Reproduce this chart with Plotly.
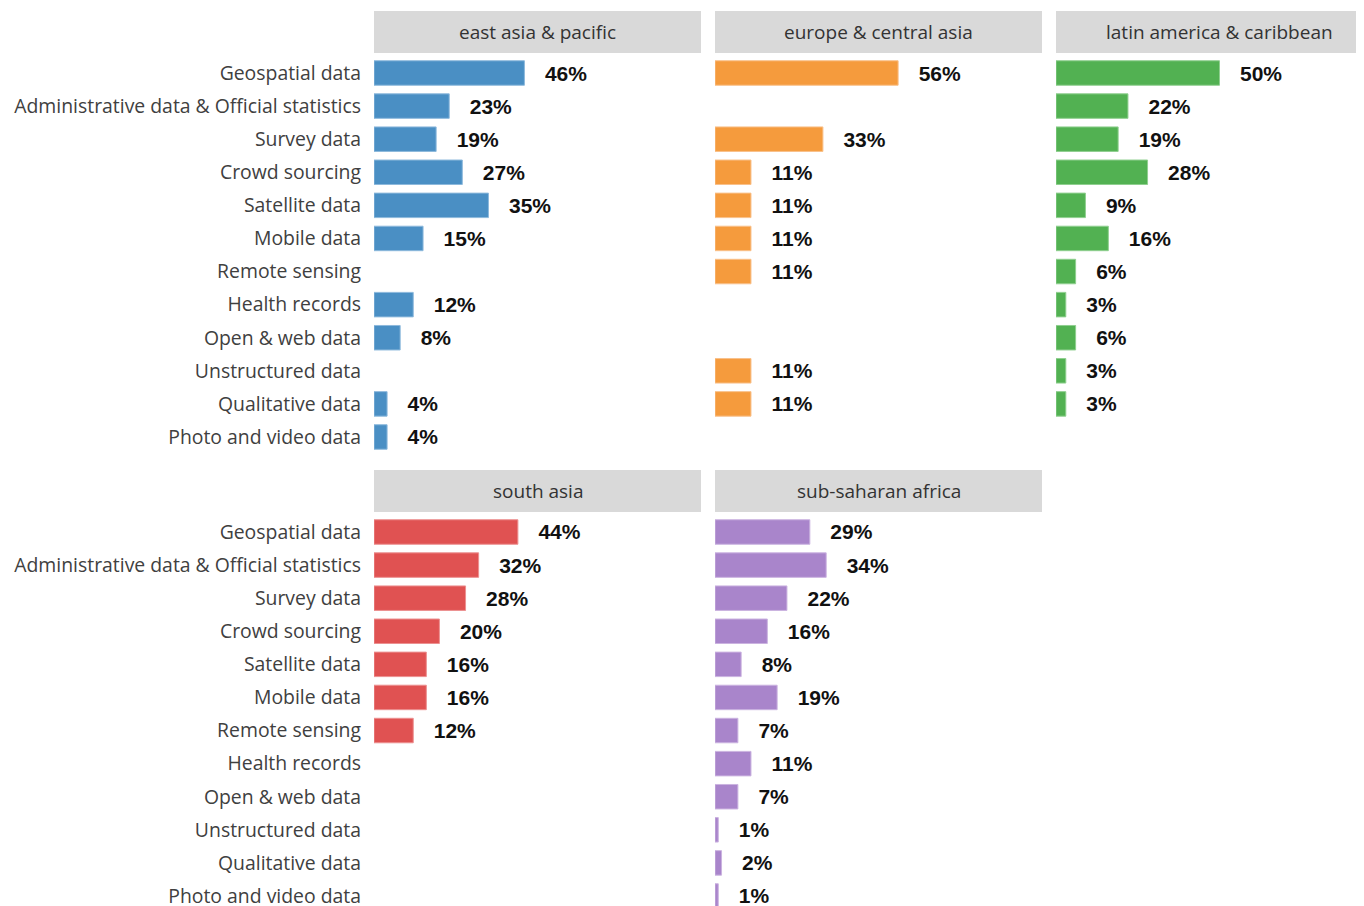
import plotly.graph_objects as go

categories = [
    "Geospatial data",
    "Administrative data & Official statistics",
    "Survey data",
    "Crowd sourcing",
    "Satellite data",
    "Mobile data",
    "Remote sensing",
    "Health records",
    "Open & web data",
    "Unstructured data",
    "Qualitative data",
    "Photo and video data",
]

regions = ["east asia & pacific", "europe & central asia", "latin america & caribbean",
           "south asia", "sub-saharan africa"]

east_asia_pacific = [46, 23, 19, 27, 35, 15, None, 12, 8, None, 4, 4]
europe_central_asia = [56, None, 33, 11, 11, 11, 11, None, None, 11, 11, None]
latin_america_caribbean = [50, 22, 19, 28, 9, 16, 6, 3, 6, 3, 3, None]
south_asia = [44, 32, 28, 20, 16, 16, 12, None, None, None, None, None]
sub_saharan_africa = [29, 34, 22, 16, 8, 19, 7, 11, 7, 1, 2, 1]

values = [east_asia_pacific, europe_central_asia, latin_america_caribbean,
          south_asia, sub_saharan_africa]
colors = ["#4A8FC4", "#F59B3D", "#52B152", "#E05252", "#A985CB"]
borders = ["#8DB9DC", "#F9C08A", "#8FCF8F", "#EC9090", "#CBB3E0"]

W, H = 1372, 914
OFF = 8  # page body margin
col_px = [(374, 701), (715, 1042), (1056, 1383)]
px_per_pct = 327 / 100.0
row_hdr = [(11, 53), (470, 512)]
row_first = [73, 532]
step = 33.09

fig = go.Figure()
layout = {}

for i, (name, vals, col, bcol) in enumerate(zip(regions, values, colors, borders)):
    r, c = divmod(i, 3)
    k = i + 1
    xs = "" if k == 1 else str(k)
    x0, x1 = col_px[c][0] - OFF, col_px[c][1] - OFF
    x1c = min(x1, W)
    dom_x = [x0 / W, x1c / W]
    xmax = (x1c - x0) / px_per_pct
    top_px = row_first[r] - OFF - step / 2
    bot_px = min(top_px + 12 * step, H)
    dom_y = [1 - bot_px / H, 1 - top_px / H]
    ymax = (bot_px - top_px) / step - 0.5

    texts = ["" if v is None else "\u00a0\u00a0\u00a0%d%%" % v for v in vals]
    fig.add_trace(go.Bar(
        x=vals, y=categories, orientation="h",
        marker=dict(color=col, line=dict(color=bcol, width=1)),
        width=0.74,
        text=texts, textposition="outside", cliponaxis=False,
        textfont=dict(family="Liberation Sans, Arial", size=21, color="#111111", weight="bold"),
        xaxis="x" + xs, yaxis="y" + xs, showlegend=False, hoverinfo="x+y",
    ))
    layout["xaxis" + xs] = dict(domain=dom_x, range=[0, xmax], visible=False,
                                anchor="y" + xs, fixedrange=True)
    layout["yaxis" + xs] = dict(domain=dom_y, range=[ymax, -0.5], anchor="x" + xs,
                                type="category", categoryorder="array", categoryarray=categories,
                                showgrid=False, zeroline=False, showline=False,
                                showticklabels=(c == 0), ticks="", ticklabelstandoff=12,
                                tickfont=dict(family="Open Sans", size=19.4, color="#404040"))

    # header strip
    hy0, hy1 = row_hdr[r][0] - OFF, row_hdr[r][1] - OFF
    fig.add_shape(type="rect", xref="paper", yref="paper",
                  x0=x0 / W, x1=x1 / W, y0=1 - hy1 / H, y1=1 - hy0 / H,
                  fillcolor="#D9D9D9", line=dict(width=0), layer="below")
    fig.add_annotation(xref="paper", yref="paper", x=(x0 + x1) / 2 / W,
                       y=1 - (hy0 + hy1) / 2 / H, text=name, showarrow=False,
                       xanchor="center", yanchor="middle",
                       font=dict(family="Open Sans", size=19, color="#333333"))

fig.update_layout(
    width=W, height=H, margin=dict(l=0, r=0, t=0, b=0),
    paper_bgcolor="white", plot_bgcolor="white",
    bargap=0.26, **layout,
)

fig.write_html("out.html", config={"displayModeBar": False},
               default_width="%dpx" % W, default_height="%dpx" % H)
